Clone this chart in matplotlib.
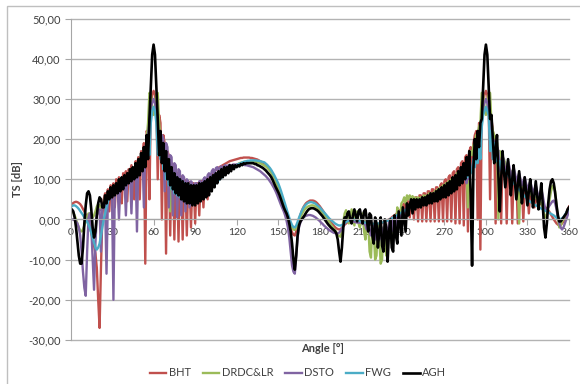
import matplotlib
matplotlib.use("Agg")
import matplotlib.pyplot as plt
import numpy as np
from matplotlib.patches import Rectangle
from matplotlib.ticker import FuncFormatter, MultipleLocator

plt.rcParams['font.family'] = ['Lato', 'DejaVu Sans']

# angle grid, one value per degree
angle = np.arange(0, 361)

series_names = ['BHT', 'DRDC&LR', 'DSTO', 'FWG', 'AGH']

bht = [
    3.5, 3.8, 4.1, 4.3, 4.4, 4.3, 4.1, 3.8, 3.3, 2.6,
    2, 1.2, 0.3, -0.8, -2, -3.3, -4.8, -6.5, -8.5, -12,
    -20, -27, -12, 1, 5, 6.5, 5, 7.5, 2, 8.5,
    7, 9, 3, 10, 8, 10.5, 9, 4, 11.5, 10,
    12, 4.5, 12.5, 11.5, 13.5, 12, 5, 14.5, 13, 15.5,
    5, 17, 15, 19, -11, 22, 21, 5, 28, 31,
    32, 31, 28, 10, 26, 24, 0, 21, 19, -8.5,
    17, 16, -4, 14, 13, -5, 12, 11.5, -5.5, 11,
    10.5, -5, 10, 9.5, -4, 9.5, 9, -2, 9, 9,
    -1, 9, 9, 1, 9.5, 9.5, 3, 10, 10, 5,
    10.5, 11, 11.3, 11.7, 12, 12.3, 12.6, 12.9, 13.1, 13.3,
    13.5, 13.7, 13.9, 14.1, 14.3, 14.5, 14.6, 14.7, 14.8, 14.9,
    15, 15.1, 15.2, 15.3, 15.3, 15.4, 15.4, 15.4, 15.4, 15.4,
    15.3, 15.3, 15.2, 15.1, 15, 14.9, 14.7, 14.5, 14.3, 14.1,
    14, 13.7, 13.4, 13, 12.5, 12, 11.4, 10.7, 10, 9.2,
    8.4, 7.4, 6.3, 5.1, 3.8, 2.5, 1.2, 0, -1.2, -2.3,
    -3.2, -3.8, -4, -3, -1.5, -0.1, 1.1, 2.1, 2.9, 3.5,
    4, 4.3, 4.5, 4.7, 4.7, 4.7, 4.6, 4.4, 4.1, 3.7,
    3.3, 2.8, 2.3, 1.8, 1.3, 0.8, 0.3, -0.2, -0.7, -1.1,
    -1.5, -1.9, -2.2, -2.4, -2.5, -2.4, -2.1, -1.7, -1.3, -1,
    -0.7, -0.5, -0.3, -0.2, -0.2, -0.3, -0.5, -0.6, -0.6, -0.5,
    -0.5, -0.6, -0.8, -1, -1.1, -1.2, -1.2, -1.3, -1.3, -1.3,
    -1.3, -1.2, -1.2, -1.1, -1, -0.9, -0.8, -0.6, -0.4, -0.2,
    0, 0.2, 0.5, 0.8, 1, 1.3, 1.6, 2, 2.3, 2.6,
    3.5, 4, 1, 4.5, 4.5, 0.5, 5, 5.5, 0, 5.5,
    5.5, -0.5, 6, 6, -0.5, 6.5, 6.5, -0.5, 7, 7,
    -0.5, 7.5, 7.5, -0.5, 8, 8, -0.5, 8.5, 9, -0.5,
    9.5, 10, -0.5, 10.5, 11, -0.5, 11.5, 12, -1, 12.5,
    13, -1, 14, 14.5, -1.5, 15.5, 16, -3, 17, 18,
    12, 19, 21, 22, 0, 24, -7.5, 27, 29, 31,
    32, 31, 28, 5, 25, 22, 20, -1, 18, 17,
    16, -1, 15, 14, 13, -1, 12.5, 12, 11.5, -1,
    11, 10.5, 10, -1, 9.5, 9, 8.5, -0.5, 8, 7.5,
    7, 1.5, 6.5, 6, 5.5, 3, 5, 4.5, 4.3, 4,
    3.8, 3.5, 3.2, 3, 2.7, 2.3, 1.8, 1.2, 0.6, 0,
    -0.5, -1, -1.3, -1.5, -1.3, -1, -0.5, 0.5, 1.5, 2.5,
    3.2,
]

drdc = [
    2.5, 2.2, 1.7, 1, 0, -1, -2, -2.8, -3, -2.5,
    -1.5, -0.3, 0.8, 1.5, 1.5, 1, 0.5, 1, 2, 3.2,
    3.8, 3.5, 2.5, 3, 4, 5.5, 4.5, 6.5, 5.5, 7.5,
    6, 8, 6.5, 8.5, 7, 9.5, 7.5, 10, 8, 10.5,
    9, 11, 9.5, 12, 10, 12.5, 10.5, 13.5, 11, 14.5,
    12, 16, 13, 17.5, 14.5, 20, 24, 31.5, 31, 28,
    26, 28, 31, 31.5, 24, 20, 15, 18, 13, 16,
    11, 14, 2, 12, 8, 11, 7, 10, 6.5, 9.5,
    6, 9, 5.5, 8.5, 5, 8.5, 5, 8, 4.5, 8,
    4.5, 8, 5, 8.5, 5.5, 8.5, 6, 9, 6.5, 9,
    7, 7.5, 8, 8.5, 9, 9.3, 9.7, 10, 10.3, 10.6,
    10.9, 11.2, 11.5, 11.8, 12.1, 12.4, 12.7, 13, 13.2, 13.4,
    13.6, 13.8, 14, 14.1, 14.2, 14.3, 14.4, 14.4, 14.5, 14.5,
    14.5, 14.5, 14.4, 14.4, 14.3, 14.2, 14.1, 14, 13.8, 13.6,
    13.4, 13.2, 12.9, 12.5, 12.1, 11.6, 11, 10.3, 9.6, 8.8,
    8, 7, 6, 4.9, 3.7, 2.5, 1.3, 0.3, -0.7, -1.5,
    -2.1, -2.5, -2.6, -2.2, -1.4, -0.5, 0.4, 1.2, 1.9, 2.4,
    2.8, 3.1, 3.3, 3.4, 3.5, 3.5, 3.4, 3.2, 3, 2.7,
    2.4, 2, 1.6, 1.2, 0.8, 0.3, -0.2, -0.7, -1.2, -1.7,
    -2.2, -2.7, -3.2, -3.7, -4.1, -4.3, -3, -0.5, 1.5, 2.3,
    1, -1, 0.5, 2.5, 1, -1.5, 1.5, 2, -1, -2,
    1, 1.5, -3, -5, 0, -1, -8, -9.5, -1, -3,
    -10, -9, -1, -5, -11, -10, -2, -4, -9, -6,
    -1, -2, -6, -3, 1, -2, 3, 0, 1, 4,
    4.5, 5.5, 4, 6, 5, 6, 5, 5.8, 5, 5.5,
    4.5, 5.5, 4.5, 5.5, 5, 6, 5, 6, 5.5, 6.5,
    5.5, 6.5, 6, 7, 6, 7.5, 6.5, 8, 7, 8.5,
    7.5, 9, 8, 9.5, 8.5, 10, 9, 10.5, 9.5, 11.5,
    10, 12, 11, 13, 12, 14, 13, 3, 15, 17,
    16, 18.5, 19, 21, 21, 23, 24, 31.5, 31, 28,
    26, 28, 31, 31.5, 24, 22, 21, 20, 19, 0,
    17, 16, 15.5, 15, 14, 13.5, 13, 12.5, 12, 11.5,
    11, 10.5, 10, 9.5, -1, 9, 8.5, 8, 7.5, 7.5,
    7, 6.5, 6.5, 6, 6, 5.5, 5.5, 5, 5, 4.5,
    4, 3, 1.5, 0.5, 1, 3, 5, 7, 8.3, 8.5,
    7, 3.5, 0, -2, -1.5, -0.5, 0, 1, 1.5, 2,
    2.2,
]

dsto = [
    0, 0, 0, -0.2, -0.5, -1, -2, -4, -8, -13,
    -17, -19, -8, 0.5, 1.5, -2, -10, -17.5, -6, 1,
    2, 2.5, -8, 3, 3.5, 4, -13.5, 5.5, 6, 6.5,
    5, -20, 7, 7.5, 8, 0, 8.5, 9, 9.5, 10,
    1, 10.5, 11, 11.5, 1.5, 12, 12.5, 13, -3, 14,
    14.5, 15, 16, 3, 18, 19, 21, 24, 28, 29,
    30, 29, 27, 23, 21, 16, 21, 20, 7, 19,
    18, 3, 16, 15.5, 1, 14, 13.5, 0.5, 12.5, 12,
    1, 11, 10.5, 2, 10, 9.5, 3, 9.5, 9, 4.5,
    9, 9, 5.5, 9.5, 9.5, 7, 10, 10.5, 8, 11,
    11.5, 10, 12, 12.5, 11, 12.8, 13, 12, 13, 13.2,
    12.5, 13.3, 13.5, 13, 13.5, 13.6, 13.3, 13.6, 13.7, 13.6,
    13.7, 13.7, 13.7, 13.7, 13.6, 13.6, 13.5, 13.5, 13.4, 13.3,
    13.2, 13.1, 13, 12.8, 12.6, 12.4, 12.2, 12, 11.7, 11.4,
    11.1, 10.8, 10.4, 10, 9.5, 9, 8.4, 7.8, 7.1, 6.3,
    5.4, 4.5, 3.6, 2.8, 2, 1, -0.3, -2, -4.5, -8,
    -11.5, -13, -13.5, -9, -4.5, -2, -0.8, -0.1, 0.4, 0.7,
    0.9, 1, 1.1, 1.1, 1, 0.9, 0.7, 0.5, 0.2, -0.1,
    -0.4, -0.8, -1.1, -1.5, -1.8, -2.1, -2.4, -2.7, -2.9, -3.1,
    -3.3, -3.4, -3.5, -3.5, -3.3, -2.9, -2.3, -1.6, -1, -0.6,
    -0.4, -0.3, -0.3, -0.4, -0.5, -0.6, -0.7, -0.8, -0.8, -0.8,
    -0.8, -0.9, -1, -1.5, -2.5, -1, -3, -4, -1, -2.5,
    -5, -1.5, -3, -5, -1.5, -2.5, -5, -1, -2, -4.5,
    -0.5, -1, -3, 0, -0.5, -2, 1, 0, -1, 1.5,
    2, 1.5, 2.5, 3, 2.5, 3.5, 3, 4, 3.5, 4.5,
    4, 4.5, 4, 5, 4.5, 5, 4.5, 5.5, 5, 5.5,
    5, 6, 5.5, 6.5, 5.5, 6.5, 6, 7, 6.5, 7.5,
    7, 7.5, 7, 8, 7.5, 8.5, 8, 9, 8.5, 9.5,
    9, 10, 9.5, 10.5, 10, 11, 9, 12, 10, 13,
    12, 15, 14, 17, 16, 20, 19, 24, 28, 29,
    30, 29, 27, 23, 22, 20, 19.5, 18, 18, 17,
    12, 14, 16, 14.5, 11.5, 12.5, 14.5, 13, 10.5, 11.5,
    13, 11.5, 9.5, 10.5, 11.5, 10, 8.5, 9.5, 10.5, 9,
    7.5, 8.5, 9.5, 8, 6.5, 7.5, 8.5, 7, 5.5, 6.5,
    7.5, 6, 4, 2.5, 2.5, 3, 3.5, 4, 4.5, 4.7,
    4, 2.5, 0.5, -1, -2, -2.5, -2, -1, 0, 1,
    2,
]

fwg = [
    3, 3.3, 3.5, 3.5, 3.3, 3, 2.6, 2.1, 1.6, 1.1,
    0.5, 0, -0.6, -1.3, -2.2, -3.3, -4.5, -5.8, -7, -7.5,
    -7, -6, -4, -2, 0, 1.5, 3, 4.5, 5, 6,
    6.5, 7, 7, 7.5, 8, 8.5, 8.5, 9, 9.5, 9.5,
    10, 10.5, 11, 11, 11.5, 12, 12, 13, 13, 14,
    14, 15, 15, 16.5, 16, 17, 21, 16, 24, 27,
    28, 27, 24, 16, 22, 15, 19, 12.5, 16.5, 10,
    14.5, 8.5, 13, 7.5, 11.5, 6.5, 10.5, 6, 10, 5.5,
    9.5, 5, 9, 5, 8.5, 4.5, 8.5, 4.5, 8, 4.5,
    8, 5, 8, 5.5, 8, 6, 8, 6.5, 8, 7,
    7, 7.4, 7.8, 8.2, 8.6, 9, 9.4, 9.7, 10.1, 10.4,
    10.8, 11.1, 11.4, 11.7, 12, 12.3, 12.6, 12.8, 13.1, 13.3,
    13.5, 13.7, 13.9, 14, 14.2, 14.3, 14.4, 14.5, 14.6, 14.6,
    14.7, 14.7, 14.7, 14.7, 14.7, 14.6, 14.6, 14.5, 14.4, 14.3,
    14.2, 13.9, 13.6, 13.2, 12.8, 12.3, 11.7, 11.1, 10.4, 9.7,
    9, 8.1, 7.1, 6, 4.9, 3.8, 2.6, 1.5, 0.4, -0.6,
    -1.4, -1.9, -2, -1.5, -0.6, 0.4, 1.3, 2.1, 2.8, 3.3,
    3.7, 4, 4.2, 4.3, 4.3, 4.2, 4.1, 3.9, 3.6, 3.3,
    3, 2.6, 2.2, 1.8, 1.4, 1, 0.6, 0.2, -0.1, -0.4,
    -0.7, -1, -1.2, -1.4, -1.5, -1.5, -1.4, -1.2, -0.9, -0.6,
    -0.4, -0.2, 0, 0.1, 0.1, 0, -0.1, -0.2, -0.3, -0.4,
    -0.5, -0.6, -0.7, -0.8, -0.9, -1, -1, -1.1, -1.1, -1.1,
    -1.1, -1.1, -1, -1, -0.9, -0.8, -0.7, -0.6, -0.4, -0.3,
    -0.1, 0.1, 0.3, 0.5, 0.7, 0.9, 1.1, 1.3, 1.5, 1.7,
    1.9, 2.1, 2.3, 2.5, 2.7, 2.9, 3.1, 3.3, 3.5, 3.7,
    3.9, 4, 4.2, 4.3, 4.5, 4.6, 4.8, 4.9, 5.1, 5.2,
    5.4, 5.5, 5.7, 5.9, 6, 6.2, 6.4, 6.6, 6.8, 7,
    7.2, 7.4, 7.6, 7.8, 8, 8.2, 8.4, 8.6, 8.8, 9,
    9.2, 9.4, 9.6, 9.8, 10, 10.2, 10.4, 10.7, 11, 11.5,
    12, 15, 13, 17, 14, 19, 15, 23, 26, 27,
    28, 27, 26, 17, 22, 15, 19, 14.5, 16.5, 13.5,
    14.5, 12.5, 13, 12, 12, 11.3, 11, 10.4, 10, 9.5,
    9, 8.6, 8.2, 7.8, 7.4, 7, 6.6, 6.2, 5.8, 5.4,
    5, 4.7, 4.4, 4.2, 4, 3.7, 3.5, 3.3, 3.1, 2.9,
    2.7, 2.5, 2.3, 2.1, 2, 1.8, 1.6, 1.4, 1.2, 1,
    0.7, 0.4, 0.2, 0.1, 0.1, 0.3, 0.6, 1.1, 1.7, 2.3,
    2.8,
]

agh = [
    2.5, 2.5, 2.0, 0.5, -2, -5.5, -9, -11, -11, -7,
    -1, 3.5, 6.5, 7, 6, 2.5, -2, -4.5, -3, 1,
    4, 5.5, 5, 3, 3, 6, 4, 7, 5, 8,
    5.5, 8.5, 6, 9, 6.5, 10, 7, 10.5, 7.5, 11,
    8.5, 11.5, 9, 12.5, 9.5, 13, 10, 14, 10.5, 15,
    11, 16.5, 12, 18, 13, 21, 15, 25, 33, 41,
    43.5, 41, 33, 25, 16, 22, 14, 19, 12, 17,
    10, 15, 8.5, 13, 7.5, 11.5, 6.5, 10.5, 6, 10,
    5, 9.5, 4.5, 9, 4, 9, 4, 8.5, 3.5, 8.5,
    3.5, 8.5, 4, 9, 4.5, 9, 5, 9.5, 5.5, 10,
    6, 10.5, 7, 11, 8, 11.5, 9, 12, 10, 12.5,
    10.5, 13, 11, 13, 11.5, 13.5, 12, 13.5, 12.5, 13.5,
    13, 13.5, 13.2, 13.8, 13.5, 14, 13.8, 14, 14, 14,
    14, 14, 14, 13.8, 13.8, 13.5, 13.4, 13.2, 13, 12.8,
    12.5, 12.2, 11.8, 11.4, 11, 10.5, 9.8, 9, 8.2, 7.5,
    6.8, 6, 5, 4, 3, 2.2, 1.5, 0.5, -1, -3,
    -6, -10, -12.5, -9, -4, -1.5, -0.5, 0, 0.5, 1,
    1.6, 2.1, 2.5, 2.7, 2.8, 2.8, 2.7, 2.5, 2.3, 2,
    1.6, 1.2, 0.8, 0.3, -0.2, -0.7, -1.2, -1.6, -2, -2.3,
    -2.6, -2.9, -3.5, -5, -8, -10.5, -7, -2, 0.5, 0,
    1.5, 2, 0, -1, 1, 2.5, 1, -0.5, 2, 2.5,
    0.5, -1, 2, 2.5, 0, -3, 1.5, 1, -4, -6,
    0.5, -1, -7, -3, 0.5, -6.5, -8, 0, -2, -10.5,
    -3, 0, -7, -8, 1, -4, -6, 2, -1, -4,
    3, 0, -3, 4, 1, 3.5, 5, 1.5, 5, 2.5,
    5, 3, 5, 3, 5.5, 3.5, 5.5, 3.5, 6, 4,
    6.5, 4, 6.5, 4.5, 7, 4.5, 7.5, 5, 8, 5.5,
    8.5, 5.5, 9, 6, 9.5, 6.5, 10.5, 7, 11, 7.5,
    12, 8.5, 13, 9, 14, 10, 15.5, 11, 17, 6,
    -11.5, 13, 20, 15, 22, 18, 24, 25, 33, 41,
    43.5, 41, 33, 25, 26, 20, 14, 17, 21, 11,
    2, 10, 17, 12, 8, 11.5, 15, 10.5, 6, 10,
    13.5, 9, 5, 8.5, 12, 8, 4, 7, 10.5, 7,
    3.5, 7, 10, 6.5, 3, 6, 9.5, 6, 2.5, 5.5,
    9, 4, -2, -4.5, -1, 4, 7.5, 9.5, 10, 9,
    6.5, 3.5, 1, -0.5, -0.5, 0, 0.5, 1, 1.5, 2.5,
    3,
]

colors = ['#C0504D', '#9BBB59', '#8064A2', '#4BACC6', '#000000']
values = [bht, drdc, dsto, fwg, agh]

fig = plt.figure(figsize=(5.8, 3.84), dpi=100)
ax = fig.add_axes([70.5 / 580, 1 - 340 / 384, (569 - 70.5) / 580, (340 - 18.5) / 384])

for name, vals, col in zip(series_names, values, colors):
    lw = 1.9 if name == 'AGH' else 1.7
    ax.plot(angle, vals, color=col, lw=lw, label=name)

ax.set_xlim(0, 360)
ax.set_ylim(-30, 50)
ax.xaxis.set_major_locator(MultipleLocator(30))
ax.yaxis.set_major_locator(MultipleLocator(10))
ax.yaxis.set_major_formatter(FuncFormatter(lambda v, p: '{:.2f}'.format(v).replace('.', ',')))

ax.yaxis.grid(True, color='#B3B3B3', lw=1)
for gl in ax.get_ygridlines():
    gl.set_clip_on(False)
ax.set_axisbelow(True)

for s in ['top', 'right']:
    ax.spines[s].set_visible(False)
ax.spines['left'].set_color('#A6A6A6')
ax.spines['bottom'].set_position(('data', 0))
ax.spines['bottom'].set_color('#A6A6A6')

ax.tick_params(axis='x', direction='out', length=4, color='#A6A6A6', labelsize=7.5,
               labelcolor='#404040', pad=2)
ax.tick_params(axis='y', direction='out', length=4, color='#A6A6A6', labelsize=8,
               labelcolor='#404040', pad=3)

ax.set_ylabel('TS [dB]', fontsize=8, fontweight='bold', color='#404040')
ax.yaxis.set_label_coords(-0.095, 0.5)
ax.set_xlabel('Angle [°]', fontsize=8, fontweight='bold', color='#404040', va='center')
ax.xaxis.set_label_coords(0.505, -0.025)

fig.legend(loc='center', bbox_to_anchor=(298 / 580, 1 - 373 / 384), ncol=5, frameon=False,
           fontsize=8, handlelength=1.5, handletextpad=0.2, columnspacing=1.1,
           labelcolor='#404040')

fig.patches.append(Rectangle((6.5 / 580, -0.1), 1.2, 1.1 - 6.5 / 384, transform=fig.transFigure,
                             fill=False, ec='#BFBFBF', lw=1))

fig.savefig('out.png', dpi=100)
